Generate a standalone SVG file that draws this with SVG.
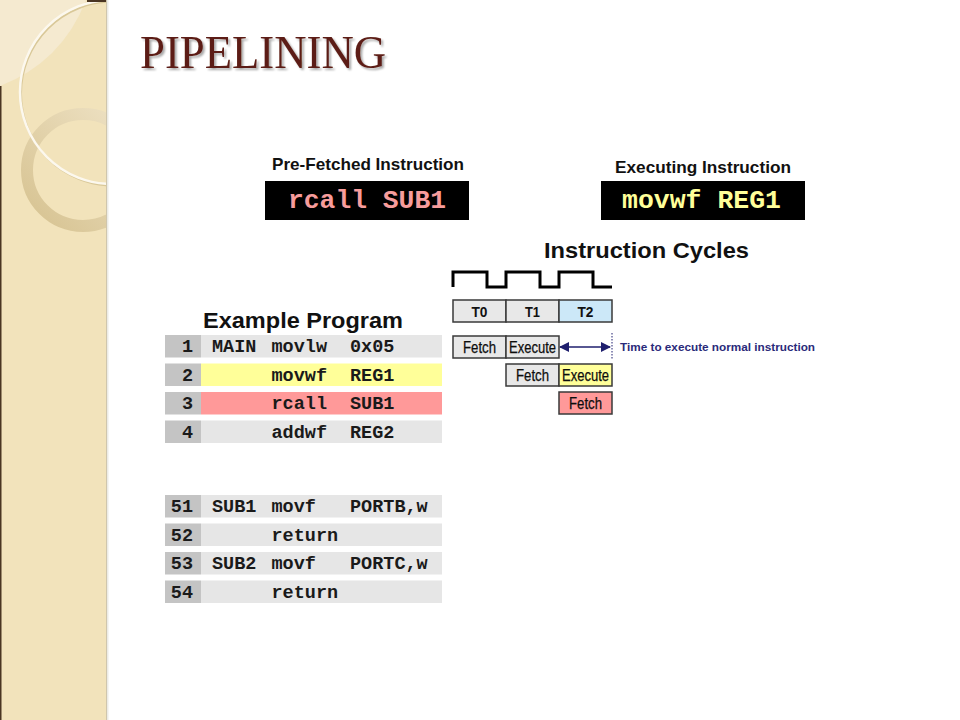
<svg xmlns="http://www.w3.org/2000/svg" width="960" height="720" viewBox="0 0 960 720">
<style>
.hdr{font-family:"Liberation Sans",Arial,sans-serif;font-weight:bold;fill:#111}
.mono{font-family:"Liberation Mono","Courier New",monospace;font-weight:bold}
.code{font-family:"Liberation Mono","Courier New",monospace;font-weight:bold;font-size:18.5px;fill:#1a1a1a}
.num{text-anchor:end}
.ncell{fill:#c4c4c4}
.gcell{fill:#e6e6e6}
.ycell{fill:#ffff99}
.pcell{fill:#ff9999}
.tbox{stroke:#3a3a3a;stroke-width:1.5}
.tl{font-family:"Liberation Sans",Arial,sans-serif;font-weight:bold;font-size:15px;fill:#111;text-anchor:middle}
.fl{font-family:"Liberation Sans",Arial,sans-serif;font-size:16px;fill:#0d0d0d;text-anchor:middle;stroke:#0d0d0d;stroke-width:0.25}
</style>
<defs>
<clipPath id="panelClip"><rect x="0" y="0" width="106" height="720"/></clipPath>
<linearGradient id="ringGrad" x1="1" y1="0" x2="0" y2="1">
<stop offset="0" stop-color="#efe3c6"/>
<stop offset="1" stop-color="#d6c290"/>
</linearGradient>
<filter id="tshadow" x="-5%" y="-20%" width="110%" height="150%">
<feGaussianBlur in="SourceAlpha" stdDeviation="1.2"/>
<feOffset dx="1.5" dy="2" result="b"/>
<feComponentTransfer><feFuncA type="linear" slope="0.35"/></feComponentTransfer>
<feMerge><feMergeNode/><feMergeNode in="SourceGraphic"/></feMerge>
</filter>
<marker id="arrowL" markerWidth="10" markerHeight="10" refX="1" refY="5" orient="auto" markerUnits="userSpaceOnUse">
<path d="M10,0 L0,5 L10,10 Z" fill="#1f1f6e"/>
</marker>
<marker id="arrowR" markerWidth="10" markerHeight="10" refX="9" refY="5" orient="auto" markerUnits="userSpaceOnUse">
<path d="M0,0 L10,5 L0,10 Z" fill="#1f1f6e"/>
</marker>
</defs>

<rect x="0" y="0" width="960" height="720" fill="#ffffff"/>

<!-- left decorative panel -->
<g id="panel" clip-path="url(#panelClip)">
<rect x="0" y="0" width="106" height="720" fill="#f2e3bb"/>
<path d="M0,0 L86,0 Q62,62 0,86 Z" fill="#f5ead0"/>
<circle cx="83" cy="170" r="56" fill="none" stroke="url(#ringGrad)" stroke-width="12"/>
<circle cx="113" cy="93.5" r="92" fill="none" stroke="#d9c898" stroke-width="2"/>
<circle cx="112" cy="92" r="92" fill="none" stroke="#fcf8ee" stroke-width="2.5"/>
<rect x="0" y="86" width="1.5" height="634" fill="#4a3522"/>
<rect x="87" y="0" width="19" height="2" fill="#4a3522"/>
</g>
<rect x="106" y="0" width="1" height="720" fill="#cfc6ad"/>
<rect x="107" y="0" width="1.5" height="720" fill="#ecebe6"/>

<!-- title -->
<text x="140" y="68" font-family="'Liberation Serif','Times New Roman',serif" font-size="46" fill="#5c1f16" textLength="246" lengthAdjust="spacingAndGlyphs" filter="url(#tshadow)">PIPELINING</text>

<!-- pre-fetched instruction -->
<g id="prefetched">
<text class="hdr" x="272" y="170" font-size="16.5" textLength="192" lengthAdjust="spacingAndGlyphs">Pre-Fetched Instruction</text>
<rect x="265" y="181" width="204" height="39" fill="#000"/>
<text class="mono" x="288" y="208" font-size="26" fill="#f79c9c" textLength="158" lengthAdjust="spacingAndGlyphs">rcall SUB1</text>
</g>

<!-- executing instruction -->
<g id="executing">
<text class="hdr" x="615" y="173" font-size="16.5" textLength="176" lengthAdjust="spacingAndGlyphs">Executing Instruction</text>
<rect x="601" y="181" width="204" height="39" fill="#000"/>
<text class="mono" x="622" y="208" font-size="26" fill="#ffff99" textLength="159" lengthAdjust="spacingAndGlyphs">movwf REG1</text>
</g>

<!-- instruction cycles -->
<g id="cycles">
<text class="hdr" x="544" y="258" font-size="22" textLength="205" lengthAdjust="spacingAndGlyphs">Instruction Cycles</text>
<path d="M453,287 V272 H487 V287 H506 V272 H540 V287 H559 V272 H593 V287 H612" fill="none" stroke="#000" stroke-width="3"/>
<rect class="tbox" x="453" y="300" width="53" height="22" fill="#e8e8e8"/>
<rect class="tbox" x="506" y="300" width="53" height="22" fill="#e8e8e8"/>
<rect class="tbox" x="559" y="300" width="53" height="22" fill="#cce8f8"/>
<text class="tl" x="479.5" y="317" textLength="16" lengthAdjust="spacingAndGlyphs">T0</text>
<text class="tl" x="532.5" y="317" textLength="15" lengthAdjust="spacingAndGlyphs">T1</text>
<text class="tl" x="585.5" y="317" textLength="16" lengthAdjust="spacingAndGlyphs">T2</text>
</g>

<g id="pipe1">
<rect class="tbox" x="453" y="336" width="53" height="22" fill="#e8e8e8"/>
<text class="fl" x="479.5" y="352.5" textLength="33" lengthAdjust="spacingAndGlyphs">Fetch</text>
<rect class="tbox" x="506" y="336" width="53" height="22" fill="#e8e8e8"/>
<text class="fl" x="532.5" y="352.5" textLength="47" lengthAdjust="spacingAndGlyphs">Execute</text>
</g>
<g id="pipe2">
<rect class="tbox" x="506" y="364" width="53" height="22" fill="#e8e8e8"/>
<text class="fl" x="532.5" y="380.5" textLength="33" lengthAdjust="spacingAndGlyphs">Fetch</text>
<rect class="tbox" x="559" y="364" width="53" height="22" fill="#ffff99"/>
<text class="fl" x="585.5" y="380.5" textLength="47" lengthAdjust="spacingAndGlyphs">Execute</text>
</g>
<g id="pipe3">
<rect class="tbox" x="559" y="392" width="53" height="22" fill="#ff9999"/>
<text class="fl" x="585.5" y="408.5" textLength="33" lengthAdjust="spacingAndGlyphs">Fetch</text>
</g>

<g id="connectors">
<line x1="560" y1="347" x2="610" y2="347" stroke="#1f1f6e" stroke-width="1.5" marker-start="url(#arrowL)" marker-end="url(#arrowR)"/>
<line x1="612" y1="333" x2="612" y2="359" stroke="#1f1f6e" stroke-width="1" stroke-dasharray="1.5,1.5"/>
</g>
<text x="620" y="351" font-family="'Liberation Sans',Arial,sans-serif" font-weight="bold" font-size="11" fill="#2a2a7a" textLength="195" lengthAdjust="spacingAndGlyphs">Time to execute normal instruction</text>

<!-- example program -->
<g id="program">
<text class="hdr" x="203" y="327.5" font-size="22" textLength="200" lengthAdjust="spacingAndGlyphs">Example Program</text>

<rect class="ncell" x="165" y="335" width="36" height="22.5"/>
<rect class="gcell" x="201" y="335" width="241" height="22.5"/>
<text class="code num" x="193" y="352">1</text>
<text class="code" x="212" y="352">MAIN</text>
<text class="code" x="271.5" y="352">movlw</text>
<text class="code" x="350" y="352">0x05</text>

<rect class="ncell" x="165" y="363.5" width="36" height="22.5"/>
<rect class="ycell" x="201" y="363.5" width="241" height="22.5"/>
<text class="code num" x="193" y="380.5">2</text>
<text class="code" x="271.5" y="380.5">movwf</text>
<text class="code" x="350" y="380.5">REG1</text>

<rect class="ncell" x="165" y="392" width="36" height="22.5"/>
<rect class="pcell" x="201" y="392" width="241" height="22.5"/>
<text class="code num" x="193" y="409">3</text>
<text class="code" x="271.5" y="409">rcall</text>
<text class="code" x="350" y="409">SUB1</text>

<rect class="ncell" x="165" y="420.5" width="36" height="22.5"/>
<rect class="gcell" x="201" y="420.5" width="241" height="22.5"/>
<text class="code num" x="193" y="437.5">4</text>
<text class="code" x="271.5" y="437.5">addwf</text>
<text class="code" x="350" y="437.5">REG2</text>

<rect class="ncell" x="165" y="495" width="36" height="22.5"/>
<rect class="gcell" x="201" y="495" width="241" height="22.5"/>
<text class="code num" x="193" y="512">51</text>
<text class="code" x="212" y="512">SUB1</text>
<text class="code" x="271.5" y="512">movf</text>
<text class="code" x="350" y="512">PORTB,w</text>

<rect class="ncell" x="165" y="523.5" width="36" height="22.5"/>
<rect class="gcell" x="201" y="523.5" width="241" height="22.5"/>
<text class="code num" x="193" y="540.5">52</text>
<text class="code" x="271.5" y="540.5">return</text>

<rect class="ncell" x="165" y="552" width="36" height="22.5"/>
<rect class="gcell" x="201" y="552" width="241" height="22.5"/>
<text class="code num" x="193" y="569">53</text>
<text class="code" x="212" y="569">SUB2</text>
<text class="code" x="271.5" y="569">movf</text>
<text class="code" x="350" y="569">PORTC,w</text>

<rect class="ncell" x="165" y="580.5" width="36" height="22.5"/>
<rect class="gcell" x="201" y="580.5" width="241" height="22.5"/>
<text class="code num" x="193" y="597.5">54</text>
<text class="code" x="271.5" y="597.5">return</text>
</g>
</svg>
